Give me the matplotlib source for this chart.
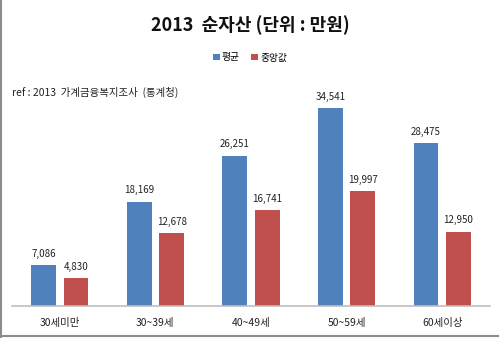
import matplotlib
matplotlib.use("Agg")
import matplotlib.pyplot as plt
from matplotlib.lines import Line2D
import numpy as np

plt.rcParams['font.family'] = ['Noto Sans CJK KR', 'DejaVu Sans']

categories = ["30세미만", "30~39세", "40~49세", "50~59세", "60세이상"]
mean_vals = [7086, 18169, 26251, 34541, 28475]
median_vals = [4830, 12678, 16741, 19997, 12950]
series_names = ["평균", "중앙값"]
title = "2013  순자산 (단위 : 만원)"
note = "ref : 2013  가계금융복지조사  (통계청)"

blue = "#4F81BD"
red = "#C0504D"

fig = plt.figure(figsize=(5, 3.38), dpi=100)
fig.patch.set_facecolor("white")

# frame lines (left and bottom), as in the reference
fig.add_artist(Line2D([0.002, 0.002], [0.0, 1.0], transform=fig.transFigure,
                      color="#8C8C8C", linewidth=1.5))
fig.add_artist(Line2D([0.0, 0.995], [0.006, 0.006], transform=fig.transFigure,
                      color="#8C8C8C", linewidth=1.5))

ax = fig.add_axes([0.024, 0.0956, 0.956, 0.677])
x = np.arange(len(categories))
w = 0.26
off = 0.17
b1 = ax.bar(x - off, mean_vals, w, color=blue, label=series_names[0])
b2 = ax.bar(x + off, median_vals, w, color=red, label=series_names[1])

for bars, vals in ((b1, mean_vals), (b2, median_vals)):
    for r, v in zip(bars, vals):
        ax.annotate(f"{v:,}", (r.get_x() + r.get_width() / 2, v),
                    xytext=(0, 4.5), textcoords="offset points",
                    ha="center", va="bottom", fontsize=7, color="#222222")

ax.set_xlim(-0.5, len(categories) - 0.5)
ax.set_ylim(0, 40000)
ax.set_yticks([])
ax.set_xticks(x)
ax.set_xticklabels(categories, fontsize=7.5, color="#222222")
ax.tick_params(axis="x", length=0, pad=9)
for s in ("top", "right", "left"):
    ax.spines[s].set_visible(False)
ax.spines["bottom"].set_color("#BFBFBF")
ax.spines["bottom"].set_linewidth(1.2)
ax.set_facecolor("none")

fig.text(0.5, 0.925, title, ha="center", va="center", fontsize=13,
         fontweight="bold", color="#111111")
fig.legend(handles=[b1, b2], labels=series_names, loc="center",
           bbox_to_anchor=(0.5, 0.83), ncol=2, frameon=False, fontsize=7,
           handlelength=0.7, handleheight=0.7, handletextpad=0.2,
           columnspacing=1.2)
fig.text(0.024, 0.727, note, ha="left", va="center", fontsize=7.5,
         color="#222222")

fig.savefig("out.png", dpi=100, facecolor=fig.get_facecolor())
